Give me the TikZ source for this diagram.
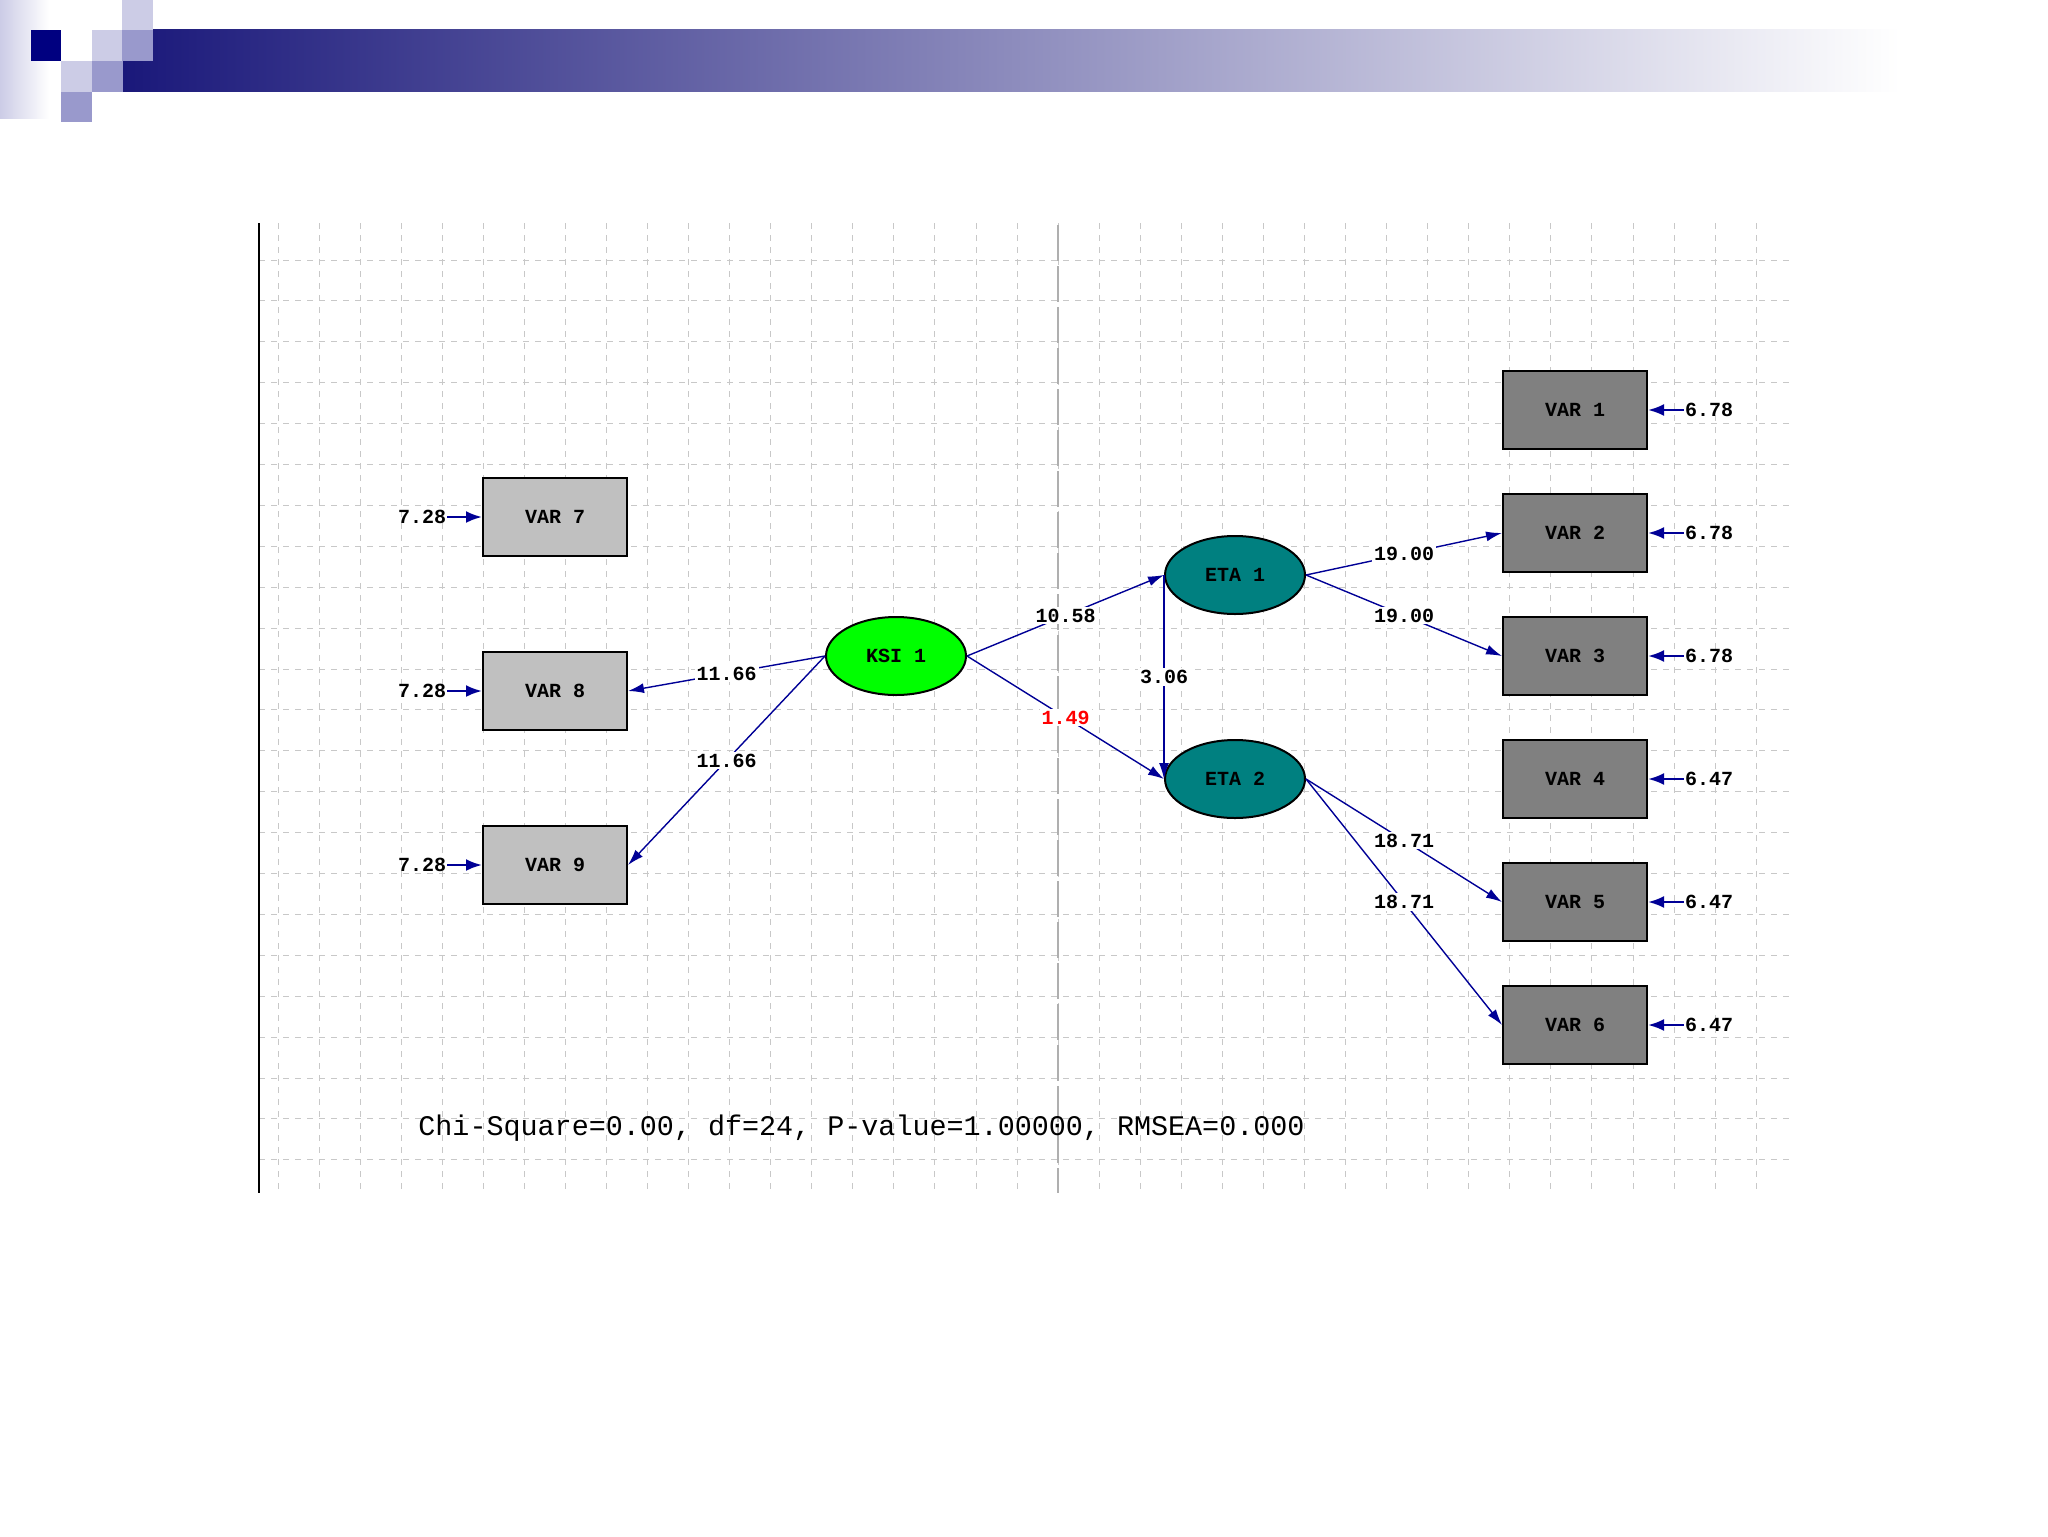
\documentclass[tikz,border=0pt]{standalone}
\usepackage{fontspec}
\setmonofont{Liberation Mono}
\usetikzlibrary{arrows.meta,shapes.geometric}
\definecolor{pathblue}{RGB}{0,0,150}
\definecolor{gridgray}{RGB}{200,200,200}
\definecolor{axisgray}{RGB}{175,175,175}
\definecolor{obslight}{RGB}{192,192,192}
\definecolor{obsdark}{RGB}{128,128,128}
\definecolor{ksigreen}{RGB}{0,255,0}
\definecolor{etateal}{RGB}{0,128,128}
\definecolor{barnavy}{RGB}{26,24,122}
\definecolor{barmid}{RGB}{128,124,168}
\definecolor{sqdark}{RGB}{0,0,128}
\definecolor{sqlight}{RGB}{204,204,230}
\definecolor{sqmid}{RGB}{153,153,204}
\tikzset{
  obsleft/.style={draw,line width=1pt,fill=obslight,minimum width=72pt,minimum height=39pt,inner sep=0pt},
  obsright/.style={obsleft,fill=obsdark},
  latent/.style={ellipse,draw,line width=1pt,minimum width=70pt,minimum height=39pt,inner sep=0pt},
  effect/.style={draw=pathblue,line width=0.7pt,-{Latex[length=8pt,width=5pt]}},
  errarrow/.style={draw=pathblue,line width=1.2pt,-{Latex[length=8pt,width=6pt]}},
  coef/.style={fill=white,inner sep=1pt},
  errval/.style={inner sep=0.5pt},
  gridline/.style={gridgray,line width=0.5pt,dash pattern=on 3pt off 3pt}
}

\begin{document}
\begin{tikzpicture}[x=0.5pt,y=-0.5pt,every node/.style={font=\ttfamily\bfseries\fontsize{10}{12}\selectfont}]
\useasboundingbox (0,0) rectangle (2048,1536);
\fill[white] (0,0) rectangle (2048,1536);
\shade[left color=sqlight,right color=white] (0,0) rectangle (49,118);
\shade[left color=barnavy,middle color=barmid,right color=white] (123,30) rectangle (1900,92);
\fill[sqdark] (31,30) rectangle (61,61);
\fill[sqlight] (92,30) rectangle (122,61);
\fill[sqlight] (122,0) rectangle (153,30);
\fill[sqmid] (122,30) rectangle (153,61);
\fill[sqlight] (61,61) rectangle (92,92);
\fill[sqmid] (92,61) rectangle (123,92);
\fill[sqmid] (61,92) rectangle (92,122);
\foreach \i in {0,...,36} \draw[gridline] ({278+41.06*\i},223) -- ({278+41.06*\i},1193);
\foreach \j in {0,...,22} \draw[gridline] (259,{260+40.9*\j}) -- (1789,{260+40.9*\j});
\draw[axisgray,line width=0.8pt,dash pattern=on 18pt off 2.5pt] (1058,225) -- (1058,1193);
\draw[line width=1pt] (259,223) -- (259,1193);
\node[obsleft] (v7) at (555,517) {VAR 7};
\node[obsleft] (v8) at (555,691) {VAR 8};
\node[obsleft] (v9) at (555,865) {VAR 9};
\node[latent,fill=ksigreen] (ksi) at (896,656) {KSI 1};
\node[latent,fill=etateal] (eta1) at (1235,575) {ETA 1};
\node[latent,fill=etateal] (eta2) at (1235,779) {ETA 2};
\node[obsright] (v1) at (1575,410) {VAR 1};
\node[obsright] (v2) at (1575,533) {VAR 2};
\node[obsright] (v3) at (1575,656) {VAR 3};
\node[obsright] (v4) at (1575,779) {VAR 4};
\node[obsright] (v5) at (1575,902) {VAR 5};
\node[obsright] (v6) at (1575,1025) {VAR 6};
\node[errval] (e7) at (422,517) {7.28};
\node[errval] (e8) at (422,691) {7.28};
\node[errval] (e9) at (422,865) {7.28};
\node[errval] (e1) at (1709,410) {6.78};
\node[errval] (e2) at (1709,533) {6.78};
\node[errval] (e3) at (1709,656) {6.78};
\node[errval] (e4) at (1709,779) {6.47};
\node[errval] (e5) at (1709,902) {6.47};
\node[errval] (e6) at (1709,1025) {6.47};
\draw[errarrow] (e7) -- (v7);
\draw[errarrow] (e8) -- (v8);
\draw[errarrow] (e9) -- (v9);
\draw[errarrow] (e1) -- (v1);
\draw[errarrow] (e2) -- (v2);
\draw[errarrow] (e3) -- (v3);
\draw[errarrow] (e4) -- (v4);
\draw[errarrow] (e5) -- (v5);
\draw[errarrow] (e6) -- (v6);
\draw[effect] (ksi.west) -- node[coef] {11.66} (v8.east);
\draw[effect] (ksi.west) -- node[coef] {11.66} (v9.east);
\draw[effect] (ksi.east) -- node[coef] {10.58} (eta1.west);
\draw[effect] (ksi.east) -- node[coef,text=red] {1.49} (eta2.west);
\draw[effect] (eta1.west) -- node[coef] {3.06} (eta2.west);
\draw[effect] (eta1.east) -- node[coef] {19.00} (v2.west);
\draw[effect] (eta1.east) -- node[coef] {19.00} (v3.west);
\draw[effect] (eta2.east) -- node[coef] {18.71} (v5.west);
\draw[effect] (eta2.east) -- node[coef] {18.71} (v6.west);
\node[anchor=base west,inner sep=0pt,font=\ttfamily\fontsize{14.2}{16}\selectfont] (fit) at (418,1135) {Chi-Square=0.00, df=24, P-value=1.00000, RMSEA=0.000};
\end{tikzpicture}
\end{document}
